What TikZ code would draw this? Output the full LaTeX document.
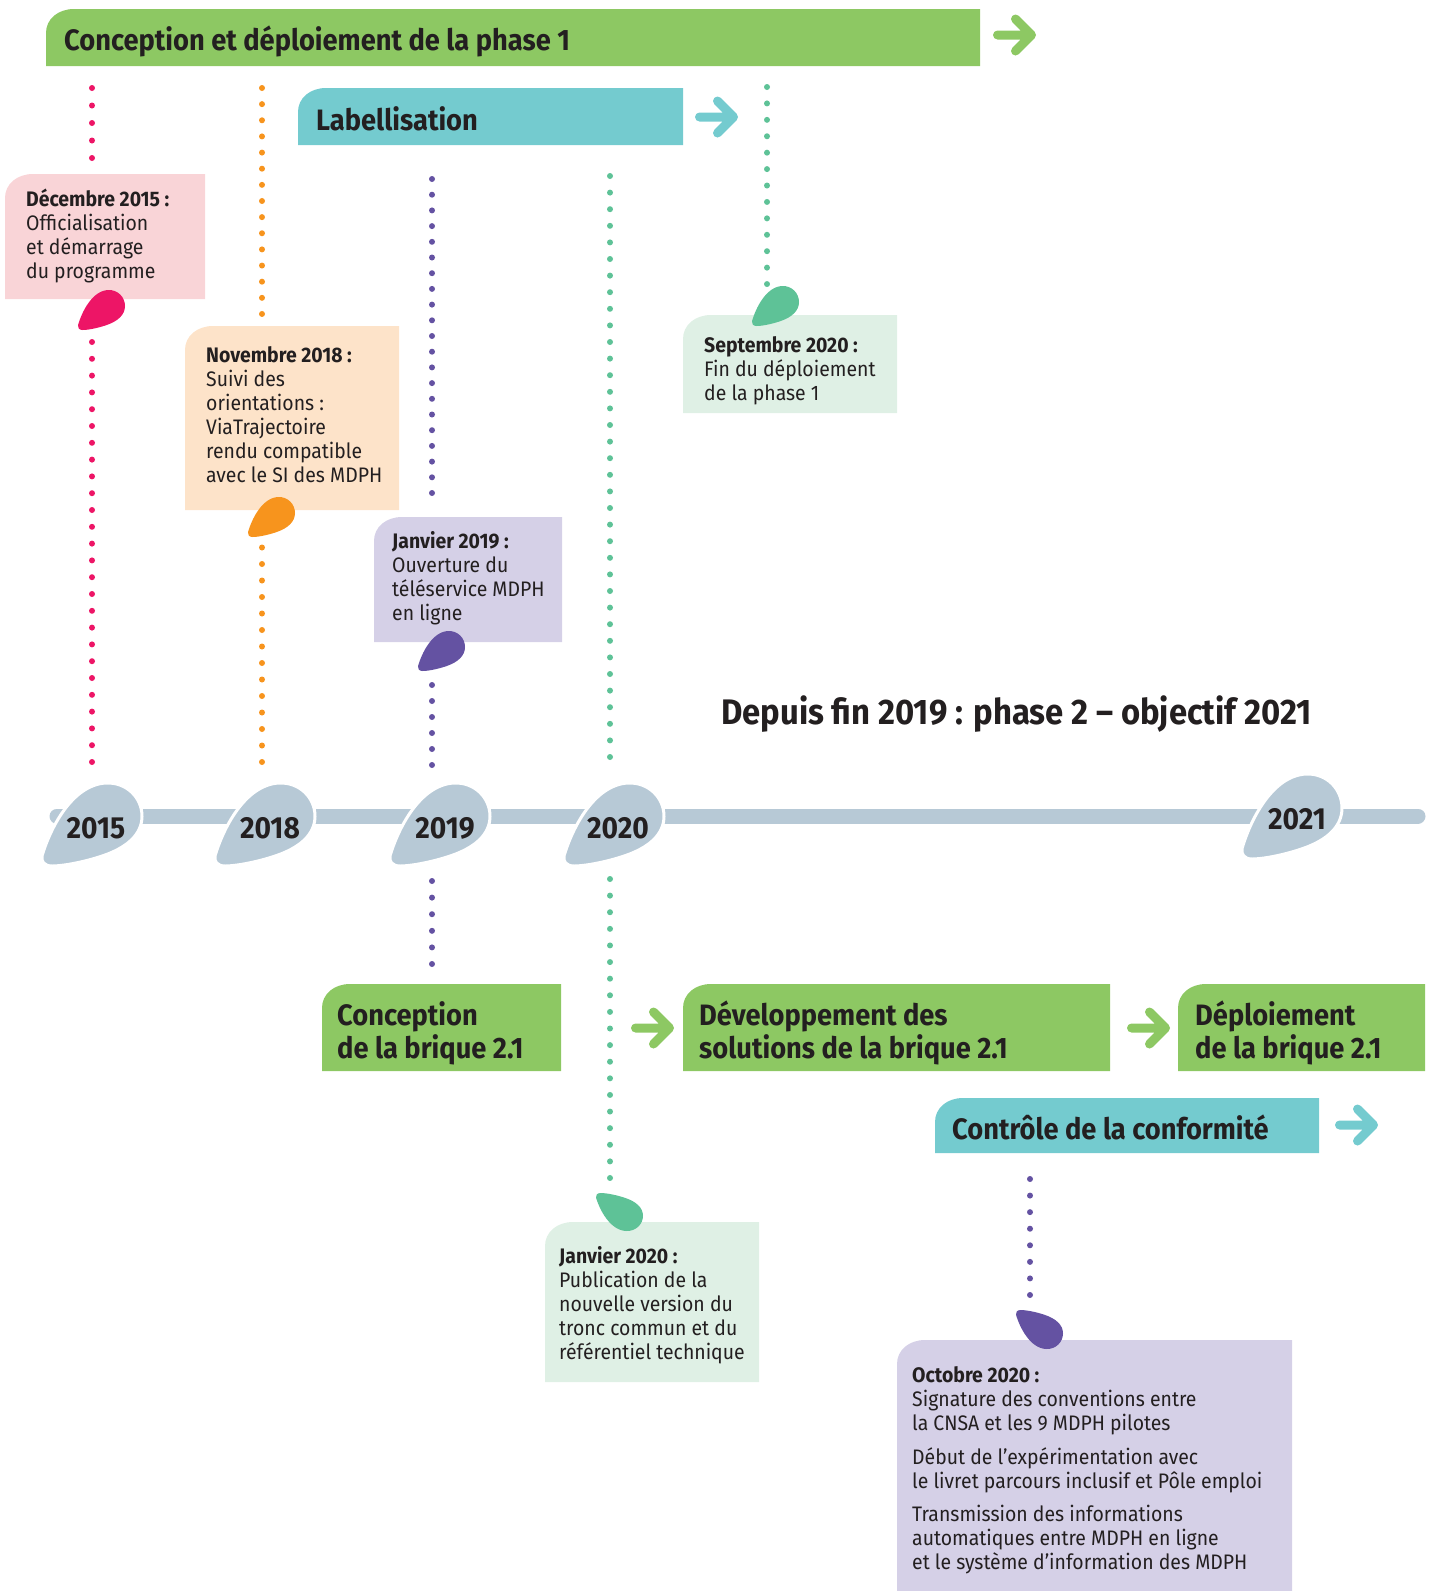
\documentclass[tikz,border=0pt]{standalone}
\usepackage{fontspec}
\setmainfont{Fira Sans}[FakeStretch=0.925]
\definecolor{ink}{HTML}{231F20}
\definecolor{barG}{HTML}{8DC863}
\definecolor{barT}{HTML}{74CBCF}
\definecolor{pinkL}{HTML}{F9D4D7}
\definecolor{pinkD}{HTML}{ED1566}
\definecolor{orgL}{HTML}{FDE3C9}
\definecolor{orgD}{HTML}{F7941D}
\definecolor{purL}{HTML}{D5D0E7}
\definecolor{purD}{HTML}{6452A2}
\definecolor{mntL}{HTML}{DFF0E5}
\definecolor{mntD}{HTML}{5EC297}
\definecolor{tline}{HTML}{B7C9D6}
\newcommand\bodyfont{\fontsize{21}{24}\selectfont}
\newcommand\headfont{\fontsize{29.5}{32.5}\selectfont\bfseries}
\newcommand\tlbox[5]{\fill[#5] (#1,#4) -- (#1,{#2+24}) .. controls (#1,{#2+10}) and ({#1+12},#2) .. ({#1+28},#2) -- (#3,#2) -- (#3,#4) -- cycle;}
\newcommand\chev[3]{\draw[chevline,#3] (#1,#2) -- ({#1+34},#2) ({#1+18},{#2-16}) -- ({#1+34},#2) -- ({#1+18},{#2+16});}
\tikzset{
  blob/.pic={\path[pic actions] (0,0.88) .. controls (0.08,0.55) and (0.3,0.02) .. (0.64,0)
     .. controls (0.85,-0.01) and (1,0.18) .. (1,0.4)
     .. controls (1,0.62) and (0.85,0.78) .. (0.6,0.88)
     .. controls (0.4,0.96) and (0.2,1) .. (0.1,1)
     .. controls (0.02,1) and (-0.01,0.94) .. (0,0.88) -- cycle;},
  dots/.style={line width=6, line cap=round, dash pattern=on 0pt off #1},
  chevline/.style={line width=9, line cap=round, line join=round},
  txt/.style={anchor=base west, inner sep=0, text=ink, font=\bodyfont},
  head/.style={anchor=base west, inner sep=0, text=ink, font=\headfont},
  yr/.style={anchor=base, inner sep=0, text=ink, font=\fontsize{30.5}{32}\selectfont\bfseries},
}
\begin{document}
\begin{tikzpicture}[x=1pt,y=-1pt]
\useasboundingbox (0,0) rectangle (1434,1591);
% dotted guides
\coordinate (p1a) at (92,88); \coordinate (p1b) at (92,158.5);
\coordinate (p2a) at (92,342); \coordinate (p2b) at (92,762.5);
\coordinate (o1a) at (262,88); \coordinate (o1b) at (262,314.5);
\coordinate (o2a) at (262,547.5); \coordinate (o2b) at (262,762.5);
\coordinate (u1a) at (432,179); \coordinate (u1b) at (432,493.5);
\coordinate (u2a) at (432,685); \coordinate (u2b) at (432,765.5);
\coordinate (u3a) at (432,881); \coordinate (u3b) at (432,964.5);
\coordinate (m1a) at (610,176); \coordinate (m1b) at (610,757.5);
\coordinate (m2a) at (610,879); \coordinate (m2b) at (610,1178.5);
\coordinate (s1a) at (767,87); \coordinate (s1b) at (767,284.5);
\coordinate (v1a) at (1030,1179); \coordinate (v1b) at (1030,1295.5);
\draw[dots=17.5pt,pinkD] (p1a) -- (p1b);
\draw[dots=16.8pt,pinkD] (p2a) -- (p2b);
\draw[dots=16.14pt,orgD] (o1a) -- (o1b);
\draw[dots=16.5pt,orgD] (o2a) -- (o2b);
\draw[dots=15.7pt,purD] (u1a) -- (u1b);
\draw[dots=16pt,purD] (u2a) -- (u2b);
\draw[dots=16.6pt,purD] (u3a) -- (u3b);
\draw[dots=16.6pt,mntD] (m1a) -- (m1b);
\draw[dots=16.61pt,mntD] (m2a) -- (m2b);
\draw[dots=16.42pt,mntD] (s1a) -- (s1b);
\draw[dots=16.57pt,purD] (v1a) -- (v1b);
% top bars
\tlbox{46}{9}{980}{66}{barG}
\node[head] (t1) at (64,50) {Conception et déploiement de la phase 1};
\chev{997.5}{35}{barG}
\tlbox{298}{88}{683}{145}{barT}
\node[head] (t2) at (316,130) {Labellisation};
\chev{699.5}{117}{barT}
% event boxes
\tlbox{5}{174}{205}{299}{pinkL}
\node[txt] (e1) at (26,206) {\begin{tabular}[t]{@{}l@{}}\textbf{Décembre 2015 :}\\Officialisation\\et démarrage\\du programme\end{tabular}};
\pic[fill=pinkD,xscale=47,yscale=40] at (78,290) {blob};
\tlbox{185}{326}{399}{510}{orgL}
\node[txt] (e2) at (206,362) {\begin{tabular}[t]{@{}l@{}}\textbf{Novembre 2018 :}\\Suivi des\\orientations :\\ViaTrajectoire\\rendu compatible\\avec le SI des MDPH\end{tabular}};
\pic[fill=orgD,xscale=47,yscale=40] at (248,497) {blob};
\tlbox{374}{517}{562}{642}{purL}
\node[txt] (e3) at (392,548) {\begin{tabular}[t]{@{}l@{}}\textbf{Janvier 2019 :}\\Ouverture du\\téléservice MDPH\\en ligne\end{tabular}};
\pic[fill=purD,xscale=47,yscale=40] at (418,631) {blob};
\tlbox{683}{315}{897}{413}{mntL}
\node[txt] (e4) at (704,352) {\begin{tabular}[t]{@{}l@{}}\textbf{Septembre 2020 :}\\Fin du déploiement\\de la phase 1\end{tabular}};
\pic[fill=mntD,xscale=47,yscale=40] at (752,286) {blob};
% phase 2 title
\node[anchor=base west, inner sep=0, text=ink, font=\fontsize{35.5}{40}\selectfont\bfseries] (ph2) at (721,724) {Depuis fin 2019 : phase 2 – objectif 2021};
% timeline
\coordinate (tla) at (57,816); \coordinate (tlb) at (1418,816);
\draw[tline, line width=15, line cap=round] (tla) -- (tlb);
\foreach \x/\y/\h/\lab/\bx/\by in {42/783/83/2015/96/838, 215/783/83/2018/270/838, 390/783/83/2019/445/838, 564/783/83/2020/618/838, 1242/774/85/2021/1297/829}{
  \pic[fill=tline,draw=white,line width=3,xscale=100,yscale=\h] at (\x,\y) {blob};
  \node[yr] (y\lab) at (\bx,\by) {\lab};
}
% phase 2 boxes
\tlbox{322}{984}{561}{1071}{barG}
\node[head] (b1) at (337,1025) {\begin{tabular}[t]{@{}l@{}}Conception\\de la brique 2.1\end{tabular}};
\chev{635.5}{1028}{barG}
\tlbox{683}{984}{1110}{1071}{barG}
\node[head] (b2) at (699,1025) {\begin{tabular}[t]{@{}l@{}}Développement des\\solutions de la brique 2.1\end{tabular}};
\chev{1131.5}{1028}{barG}
\tlbox{1178}{984}{1425}{1071}{barG}
\node[head] (b3) at (1195,1025) {\begin{tabular}[t]{@{}l@{}}Déploiement\\de la brique 2.1\end{tabular}};
\tlbox{935}{1098}{1319}{1153}{barT}
\node[head] (b4) at (952,1139) {Contrôle de la conformité};
\chev{1339.5}{1125}{barT}
% lower events
\tlbox{545}{1222}{759}{1382}{mntL}
\pic[fill=mntD,xscale=47,yscale=-38] at (596,1231) {blob};
\node[txt] (e5) at (559,1263) {\begin{tabular}[t]{@{}l@{}}\textbf{Janvier 2020 :}\\Publication de la\\nouvelle version du\\tronc commun et du\\référentiel technique\end{tabular}};
\tlbox{897}{1340}{1292}{1591}{purL}
\pic[fill=purD,xscale=47,yscale=-39] at (1016,1349) {blob};
\node[txt] (e6) at (912,1382) {\begin{tabular}[t]{@{}l@{}}\textbf{Octobre 2020 :}\\Signature des conventions entre\\la CNSA et les 9 MDPH pilotes\\[10pt]Début de l’expérimentation avec\\le livret parcours inclusif et Pôle emploi\\[9pt]Transmission des informations\\automatiques entre MDPH en ligne\\et le système d’information des MDPH\end{tabular}};
\end{tikzpicture}
\end{document}
